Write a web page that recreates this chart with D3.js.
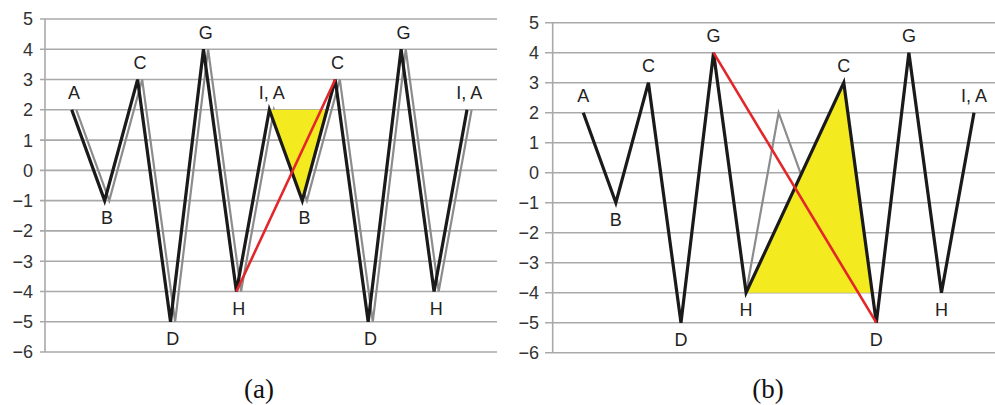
<!DOCTYPE html>
<html>
  <head>
    <meta charset="utf-8" />
    <title>Zigzag panels</title>
    <script src="https://d3js.org/d3.v7.min.js"></script>
    <style>
      body { margin: 0; background: #fff; }
      svg { display: block; }
    </style>
  </head>
  <body>
    <svg id="chart" width="995" height="405"></svg>

    <script>
      // data
      var yTicks = [-6, -5, -4, -3, -2, -1, 0, 1, 2, 3, 4, 5];
      var labels = ["A", "B", "C", "D", "G", "H", "I, A", "B", "C", "D", "G", "H", "I, A"];
      var values = [2, -1, 3, -5, 4, -4, 2, -1, 3, -5, 4, -4, 2];

      // panel (a): black series, a shifted gray copy, yellow patch, red chord
      var blackA = [0, 1, 2, 3, 4, 5, 6, 7, 8, 9, 10, 11, 12];
      var grayA = [0, 1, 2, 3, 4, 5, 6, 7, 8, 9, 10, 11, 12];
      var grayShift = 0.14;
      var yellowA = [[6, 2], [7.75, 2], [7, -1]];
      var redA = [[5, -4], [8, 3]];

      // panel (b): black skips I,A and B, gray keeps them
      var blackB = [0, 1, 2, 3, 4, 5, 8, 9, 10, 11, 12];
      var grayB = [5, 6, 7, 8];
      var yellowB = [[5, -4], [8, 3], [8.875, -4]];
      var redB = [[4, 4], [9, -5]];
      var labelsB = [0, 1, 2, 3, 4, 5, 8, 9, 10, 11, 12];

      var svg = d3.select("#chart");

      var drawPanel = function (p) {
        var x = d3.scaleLinear().domain([0, 12]).range([p.x0, p.x12]);
        var y = d3.scaleLinear().domain([-6, 5]).range([p.yBottom, p.yTop]);
        var g = svg.append("g");

        // grid lines
        g.selectAll("line.grid")
          .data(yTicks)
          .join("line")
          .attr("x1", p.gridLeft)
          .attr("x2", p.gridRight)
          .attr("y1", (d) => y(d))
          .attr("y2", (d) => y(d))
          .attr("stroke", "#a9a9a9")
          .attr("stroke-width", 1.6);

        g.append("line")
          .attr("x1", p.axisX)
          .attr("x2", p.axisX)
          .attr("y1", y(5))
          .attr("y2", y(-6))
          .attr("stroke", "#a9a9a9")
          .attr("stroke-width", 1.6);

        g.selectAll("text.tick")
          .data(yTicks)
          .join("text")
          .attr("x", p.tickX)
          .attr("y", (d) => y(d))
          .attr("dy", "0.36em")
          .attr("text-anchor", "end")
          .attr("font-family", "Liberation Sans, Arial, sans-serif")
          .attr("font-size", 18)
          .attr("fill", "#333")
          .text((d) => (d < 0 ? "\u2212" + -d : d));

        var line = d3.line()
          .x((d) => x(d[0]))
          .y((d) => y(d[1]));

        // gray copy first, yellow patch over it, black on top
        g.append("path")
          .attr("d", line(p.gray.map((i) => [i + p.shift, values[i]])))
          .attr("fill", "none")
          .attr("stroke", "#8c8c8c")
          .attr("stroke-width", 2.2);

        g.append("path")
          .attr("d", line(p.yellow) + "Z")
          .attr("fill", "#f3ea1f")
          .attr("stroke", "none");

        g.append("path")
          .attr("d", line(p.black.map((i) => [i, values[i]])))
          .attr("fill", "none")
          .attr("stroke", "#1a1a1a")
          .attr("stroke-width", 3.2)
          .attr("stroke-linejoin", "miter");

        g.append("path")
          .attr("d", line(p.red))
          .attr("fill", "none")
          .attr("stroke", "#e3262a")
          .attr("stroke-width", 2.6);

        // point labels: above peaks, below troughs
        g.selectAll("text.lab")
          .data(p.labels)
          .join("text")
          .attr("x", (i) => x(i + p.shift / 2))
          .attr("y", (i) => y(values[i]) + (values[i] > 0 ? -17 : 17))
          .attr("dy", "0.36em")
          .attr("text-anchor", "middle")
          .attr("font-family", "Liberation Sans, Arial, sans-serif")
          .attr("font-size", 18)
          .attr("fill", "#222")
          .text((i) => labels[i]);

        svg.append("text")
          .attr("x", p.captionX)
          .attr("y", 398)
          .attr("text-anchor", "middle")
          .attr("font-family", "Liberation Serif, DejaVu Serif, serif")
          .attr("font-size", 27)
          .attr("fill", "#111")
          .text(p.caption);
      };

      drawPanel({
        x0: 71.7, x12: 467, yTop: 19, yBottom: 352,
        gridLeft: 40, gridRight: 497, axisX: 45, tickX: 33,
        black: blackA, gray: grayA, shift: grayShift,
        yellow: yellowA, red: redA, labels: blackA,
        captionX: 259, caption: "(a)"
      });

      drawPanel({
        x0: 583.3, x12: 974, yTop: 22.7, yBottom: 352.7,
        gridLeft: 545, gridRight: 995, axisX: 552.7, tickX: 539,
        black: blackB, gray: grayB, shift: 0,
        yellow: yellowB, red: redB, labels: labelsB,
        captionX: 768, caption: "(b)"
      });
    </script>
  </body>
</html>
